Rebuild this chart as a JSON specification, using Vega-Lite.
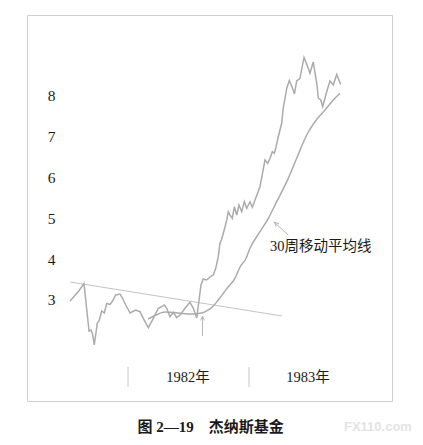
{
  "$schema": "https://vega.github.io/schema/vega-lite/v6.json",
  "autosize": {"type": "none"},
  "width": 365,
  "height": 386,
  "padding": {"left": 27, "top": 15, "right": 31, "bottom": 44},
  "background": "white",
  "config": {
    "view": {"stroke": "#cfcfcf", "strokeWidth": 1},
    "font": "Liberation Serif"
  },
  "datasets": {
    "price": [
      {"t": 1981.521, "v": 2.975}, {"t": 1981.593, "v": 3.221}, {"t": 1981.636, "v": 3.404},
      {"t": 1981.661, "v": 2.706}, {"t": 1981.678, "v": 2.240}, {"t": 1981.694, "v": 2.265},
      {"t": 1981.707, "v": 2.167}, {"t": 1981.721, "v": 1.897}, {"t": 1981.746, "v": 2.436},
      {"t": 1981.760, "v": 2.485}, {"t": 1981.783, "v": 2.730}, {"t": 1981.804, "v": 2.681},
      {"t": 1981.824, "v": 2.914}, {"t": 1981.851, "v": 2.890}, {"t": 1981.870, "v": 2.963},
      {"t": 1981.898, "v": 3.123}, {"t": 1981.934, "v": 3.147}, {"t": 1981.956, "v": 3.037},
      {"t": 1981.981, "v": 2.877}, {"t": 1982.017, "v": 2.681}, {"t": 1982.039, "v": 2.718},
      {"t": 1982.064, "v": 2.755}, {"t": 1982.099, "v": 2.713}, {"t": 1982.126, "v": 2.551},
      {"t": 1982.168, "v": 2.321}, {"t": 1982.209, "v": 2.551}, {"t": 1982.250, "v": 2.797},
      {"t": 1982.279, "v": 2.836}, {"t": 1982.300, "v": 2.877}, {"t": 1982.320, "v": 2.797},
      {"t": 1982.347, "v": 2.591}, {"t": 1982.374, "v": 2.699}, {"t": 1982.402, "v": 2.566},
      {"t": 1982.430, "v": 2.632}, {"t": 1982.471, "v": 2.797}, {"t": 1982.512, "v": 2.944},
      {"t": 1982.540, "v": 2.797}, {"t": 1982.568, "v": 2.559}, {"t": 1982.603, "v": 3.368},
      {"t": 1982.622, "v": 3.515}, {"t": 1982.650, "v": 3.490}, {"t": 1982.678, "v": 3.564},
      {"t": 1982.705, "v": 3.613}, {"t": 1982.725, "v": 3.777}, {"t": 1982.746, "v": 4.061},
      {"t": 1982.760, "v": 4.390}, {"t": 1982.774, "v": 4.488}, {"t": 1982.802, "v": 4.797},
      {"t": 1982.816, "v": 4.961}, {"t": 1982.829, "v": 5.164}, {"t": 1982.843, "v": 5.083},
      {"t": 1982.862, "v": 5.002}, {"t": 1982.879, "v": 5.287}, {"t": 1982.898, "v": 5.083},
      {"t": 1982.917, "v": 5.328}, {"t": 1982.940, "v": 5.164}, {"t": 1982.961, "v": 5.409},
      {"t": 1982.981, "v": 5.248}, {"t": 1983.008, "v": 5.409}, {"t": 1983.027, "v": 5.272},
      {"t": 1983.050, "v": 5.451}, {"t": 1983.091, "v": 5.777}, {"t": 1983.132, "v": 6.431},
      {"t": 1983.155, "v": 6.350}, {"t": 1983.174, "v": 6.473}, {"t": 1983.193, "v": 6.635},
      {"t": 1983.209, "v": 6.596}, {"t": 1983.221, "v": 6.718}, {"t": 1983.242, "v": 7.002},
      {"t": 1983.270, "v": 7.331}, {"t": 1983.283, "v": 7.699}, {"t": 1983.312, "v": 8.189},
      {"t": 1983.333, "v": 8.380}, {"t": 1983.353, "v": 8.245}, {"t": 1983.376, "v": 8.049},
      {"t": 1983.394, "v": 8.368}, {"t": 1983.421, "v": 8.434}, {"t": 1983.455, "v": 8.944},
      {"t": 1983.490, "v": 8.679}, {"t": 1983.504, "v": 8.556}, {"t": 1983.531, "v": 8.833},
      {"t": 1983.560, "v": 8.311}, {"t": 1983.573, "v": 7.951}, {"t": 1983.593, "v": 7.902},
      {"t": 1983.609, "v": 7.738}, {"t": 1983.642, "v": 8.105}, {"t": 1983.669, "v": 8.368},
      {"t": 1983.697, "v": 8.270}, {"t": 1983.725, "v": 8.527}, {"t": 1983.758, "v": 8.282}
    ],
    "ma": [
      {"t": 1982.165, "v": 2.534}, {"t": 1982.223, "v": 2.620}, {"t": 1982.306, "v": 2.706},
      {"t": 1982.413, "v": 2.681}, {"t": 1982.526, "v": 2.657}, {"t": 1982.609, "v": 2.681},
      {"t": 1982.664, "v": 2.755}, {"t": 1982.705, "v": 2.853}, {"t": 1982.746, "v": 3.000},
      {"t": 1982.788, "v": 3.164}, {"t": 1982.829, "v": 3.326}, {"t": 1982.884, "v": 3.532},
      {"t": 1982.926, "v": 3.809}, {"t": 1982.973, "v": 4.005}, {"t": 1983.008, "v": 4.267},
      {"t": 1983.091, "v": 4.674}, {"t": 1983.160, "v": 5.002}, {"t": 1983.229, "v": 5.409},
      {"t": 1983.312, "v": 5.900}, {"t": 1983.394, "v": 6.473}, {"t": 1983.477, "v": 7.044},
      {"t": 1983.545, "v": 7.370}, {"t": 1983.628, "v": 7.657}, {"t": 1983.697, "v": 7.902},
      {"t": 1983.752, "v": 8.066}
    ],
    "trend": [
      {"t": 1981.521, "v": 3.441}, {"t": 1983.273, "v": 2.608}
    ],
    "arrows": [
      {"t": 1982.616, "v": 2.118, "t2": 1982.616, "v2": 2.608, "angle": 0},
      {"t": 1983.325, "v": 4.593, "t2": 1983.209, "v2": 4.904, "angle": 312}
    ],
    "years": [
      {"t": 1982.496, "v": 1.088, "label": "1982年"},
      {"t": 1983.488, "v": 1.088, "label": "1983年"}
    ],
    "seps": [
      {"t": 1982.0, "v": 0.868, "v2": 1.358},
      {"t": 1983.0, "v": 0.868, "v2": 1.358}
    ],
    "notes": [
      {"t": 1983.174, "v": 4.299, "label": "30周移动平均线"}
    ],
    "caption": [
      {"t": 1982.683, "v": -0.105, "label": "图 2—19　杰纳斯基金"}
    ],
    "mark": [
      {"t": 1984.066, "v": -0.105, "label": "FX110.com"}
    ]
  },
  "layer": [
    {
      "data": {"name": "trend"},
      "mark": {"type": "line", "color": "#c4c4c4", "strokeWidth": 1},
      "encoding": {
        "x": {"field": "t", "type": "quantitative", "scale": {"domain": [1981.165, 1984.182], "nice": false, "zero": false}, "axis": null},
        "y": {"field": "v", "type": "quantitative", "scale": {"domain": [0.5245, 9.985], "nice": false, "zero": false},
          "axis": {"values": [3, 4, 5, 6, 7, 8], "domain": false, "ticks": false, "grid": false, "offset": -31, "labelPadding": 3,
            "labelFont": "Liberation Serif", "labelFontSize": 15.5, "labelColor": "#1a1a1a", "title": null}}
      }
    },
    {
      "data": {"name": "price"},
      "mark": {"type": "line", "color": "#ababab", "strokeWidth": 1.5},
      "encoding": {
        "x": {"field": "t", "type": "quantitative"},
        "y": {"field": "v", "type": "quantitative"}
      }
    },
    {
      "data": {"name": "ma"},
      "mark": {"type": "line", "color": "#ababab", "strokeWidth": 1.5, "interpolate": "monotone"},
      "encoding": {
        "x": {"field": "t", "type": "quantitative"},
        "y": {"field": "v", "type": "quantitative"}
      }
    },
    {
      "data": {"name": "arrows"},
      "mark": {"type": "rule", "color": "#b5b5b5", "strokeWidth": 1},
      "encoding": {
        "x": {"field": "t", "type": "quantitative"},
        "x2": {"field": "t2"},
        "y": {"field": "v", "type": "quantitative"},
        "y2": {"field": "v2"}
      }
    },
    {
      "data": {"name": "arrows"},
      "mark": {"type": "point", "shape": "M-0.7,1.6L0,0L0.7,1.6", "filled": false, "color": "#b5b5b5", "strokeWidth": 1, "size": 30, "opacity": 1},
      "encoding": {
        "x": {"field": "t2", "type": "quantitative"},
        "y": {"field": "v2", "type": "quantitative"},
        "angle": {"field": "angle", "type": "quantitative", "scale": null}
      }
    },
    {
      "data": {"name": "seps"},
      "mark": {"type": "rule", "color": "#c8c8c8", "strokeWidth": 1},
      "encoding": {
        "x": {"field": "t", "type": "quantitative"},
        "y": {"field": "v", "type": "quantitative"},
        "y2": {"field": "v2"}
      }
    },
    {
      "data": {"name": "years"},
      "mark": {"type": "text", "font": "Liberation Serif, Noto Sans CJK SC", "fontSize": 14.5, "color": "#1a1a1a", "align": "center", "baseline": "middle"},
      "encoding": {
        "x": {"field": "t", "type": "quantitative"},
        "y": {"field": "v", "type": "quantitative"},
        "text": {"field": "label"}
      }
    },
    {
      "data": {"name": "notes"},
      "mark": {"type": "text", "font": "Liberation Serif, Noto Sans CJK SC", "fontSize": 14.5, "color": "#1a1a1a", "align": "left", "baseline": "middle"},
      "encoding": {
        "x": {"field": "t", "type": "quantitative"},
        "y": {"field": "v", "type": "quantitative"},
        "text": {"field": "label"}
      }
    },
    {
      "data": {"name": "caption"},
      "mark": {"type": "text", "font": "Liberation Serif, Noto Sans CJK SC", "fontSize": 15, "fontWeight": "bold", "color": "#1a1a1a", "align": "center", "baseline": "middle", "clip": false},
      "encoding": {
        "x": {"field": "t", "type": "quantitative"},
        "y": {"field": "v", "type": "quantitative"},
        "text": {"field": "label"}
      }
    },
    {
      "data": {"name": "mark"},
      "mark": {"type": "text", "font": "Liberation Sans", "fontSize": 13, "fontWeight": "bold", "color": "#e4e4e4", "align": "center", "baseline": "middle", "clip": false},
      "encoding": {
        "x": {"field": "t", "type": "quantitative"},
        "y": {"field": "v", "type": "quantitative"},
        "text": {"field": "label"}
      }
    }
  ]
}
